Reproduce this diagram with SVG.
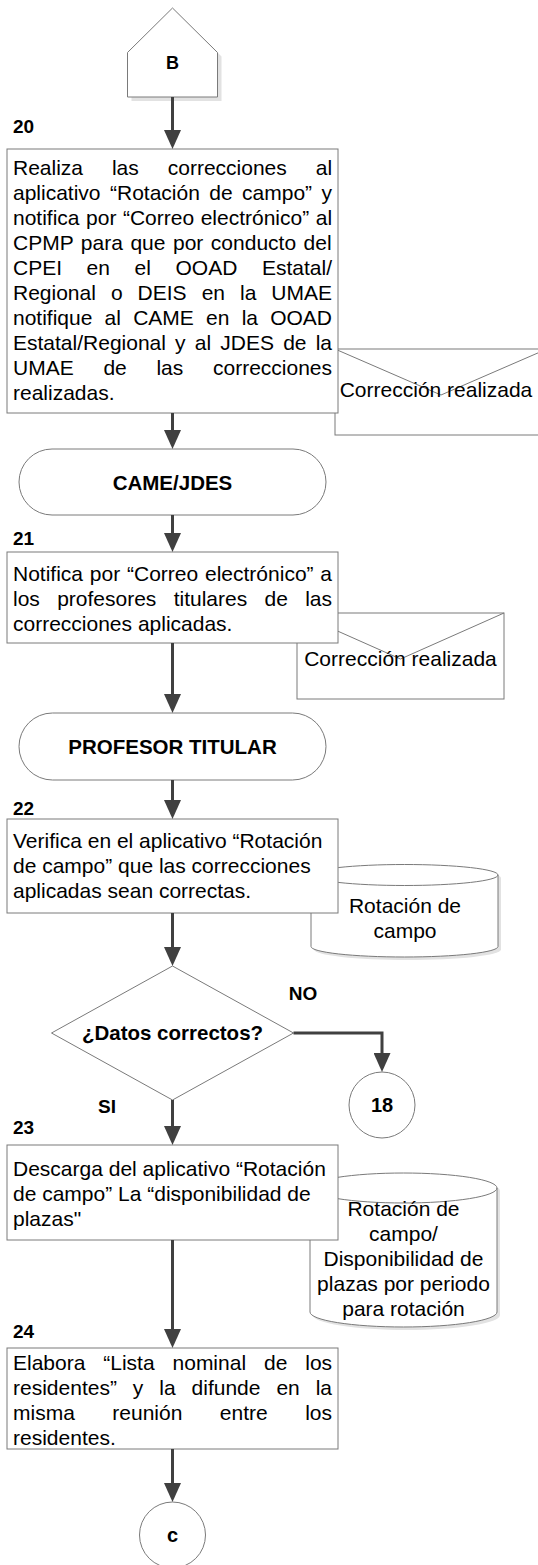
<svg xmlns="http://www.w3.org/2000/svg" width="538" height="1565" viewBox="0 0 538 1565">
<defs>
<marker id="ah" markerUnits="userSpaceOnUse" markerWidth="19" markerHeight="17" refX="9" refY="8.5" orient="auto"><path d="M0,0 L19,8.5 L0,17 Z" fill="#404040"/></marker>
</defs>
<style>
.shape{fill:#fff;stroke:#7a7a7a;stroke-width:1}
.shadow{fill:#e2e2e2;stroke:none}
.line{fill:none;stroke:#7a7a7a;stroke-width:1}
.txt{font-family:"Liberation Sans",Arial,sans-serif;font-size:21px;fill:#000}
.c{text-anchor:middle}
.b{font-family:"Liberation Sans",Arial,sans-serif;font-weight:bold;fill:#000}
.conn{fill:none;stroke:#404040;stroke-width:3;marker-end:url(#ah)}
</style>
<rect width="538" height="1565" fill="#fff"/>

<g id="nodeB">
<polygon class="shadow" points="131.5,56.5 176.5,12 221.5,56.5 221.5,101 131.5,101"/>
<polygon class="shape" points="127.5,52.5 172.5,8 217.5,52.5 217.5,97 127.5,97"/>
<text class="b c" x="172.5" y="69" font-size="18">B</text>
</g>

<g id="env1">
<rect class="shape" x="335" y="349" width="212" height="86"/>
<polyline class="line" points="335,349 441,395 547,349"/>
<text class="txt c" x="436" y="397">Corrección realizada</text>
</g>

<g id="step20">
<text class="b" x="13" y="133" font-size="19">20</text>
<rect class="shape" x="7" y="149" width="331" height="264"/>
<text class="txt">
<tspan x="13" y="174.5" word-spacing="23.09">Realiza las correcciones al</tspan>
<tspan x="13" y="199.5" word-spacing="3.6">aplicativo “Rotación de campo” y</tspan>
<tspan x="13" y="224.5" word-spacing="0.69">notifica por “Correo electrónico” al</tspan>
<tspan x="13" y="249.5" word-spacing="1.7">CPMP para que por conducto del</tspan>
<tspan x="13" y="274.5" word-spacing="18.77">CPEI en el OOAD Estatal/</tspan>
<tspan x="13" y="299.5" word-spacing="9.18">Regional o DEIS en la UMAE</tspan>
<tspan x="13" y="324.5" word-spacing="6.38">notifique al CAME en la OOAD</tspan>
<tspan x="13" y="349.5" word-spacing="3.34">Estatal/Regional y al JDES de la</tspan>
<tspan x="13" y="374.5" word-spacing="23.87">UMAE de las correcciones</tspan>
<tspan x="13" y="399.5">realizadas.</tspan>
</text>
</g>

<g id="actor1">
<rect class="shape" x="19" y="449" width="307" height="66" rx="33" ry="33"/>
<text class="b c" x="172.5" y="489.5" font-size="20.5">CAME/JDES</text>
</g>

<g id="env2">
<rect class="shape" x="297" y="613" width="207" height="86"/>
<polyline class="line" points="297,613 400.5,659 504,613"/>
<text class="txt c" x="400.5" y="666">Corrección realizada</text>
</g>

<g id="step21">
<text class="b" x="13" y="545" font-size="19">21</text>
<rect class="shape" x="7" y="552" width="331" height="91"/>
<text class="txt">
<tspan x="13" y="580.5" word-spacing="0.98">Notifica por “Correo electrónico” a</tspan>
<tspan x="13" y="605.5" word-spacing="11.47">los profesores titulares de las</tspan>
<tspan x="13" y="630.5">correcciones aplicadas.</tspan>
</text>
</g>

<g id="actor2">
<rect class="shape" x="19" y="713" width="307" height="67" rx="33.5" ry="33.5"/>
<text class="b c" x="172.5" y="754" font-size="20.5">PROFESOR TITULAR</text>
</g>

<g id="db1">
<path class="shadow" d="M314,878 A93.5,10.5 0 0 1 501,878 L501,949.5 A93.5,10.5 0 0 1 314,949.5 Z"/>
<path class="shape" d="M311,875 A93.5,10.5 0 0 1 498,875 L498,946.5 A93.5,10.5 0 0 1 311,946.5 Z"/>
<path class="line" d="M311,875 A93.5,10.5 0 0 0 498,875"/>
<text class="txt c" x="405" y="912.5">Rotación de</text>
<text class="txt c" x="405" y="937.5">campo</text>
</g>

<g id="step22">
<text class="b" x="13" y="815" font-size="19">22</text>
<rect class="shape" x="7" y="819" width="331" height="94"/>
<text class="txt">
<tspan x="13" y="847.5">Verifica en el aplicativo “Rotación</tspan>
<tspan x="13" y="872.5">de campo” que las correcciones</tspan>
<tspan x="13" y="897.5">aplicadas sean correctas.</tspan>
</text>
</g>

<g id="decision">
<polygon class="shape" points="172.5,966 293.5,1033 172.5,1100 51.5,1033"/>
<text class="b c" x="172.5" y="1040" font-size="20.5">¿Datos correctos?</text>
<text class="b c" x="303" y="1000" font-size="19">NO</text>
<text class="b c" x="107" y="1113" font-size="19">SI</text>
</g>

<g id="conn18">
<circle class="shape" cx="382" cy="1105" r="33"/>
<text class="b c" x="382" y="1112" font-size="20">18</text>
</g>

<g id="db2">
<path class="shadow" d="M313,1191 A93.5,15 0 0 1 500,1191 L500,1315 A93.5,15 0 0 1 313,1315 Z"/>
<path class="shape" d="M310,1188 A93.5,15 0 0 1 497,1188 L497,1312 A93.5,15 0 0 1 310,1312 Z"/>
<path class="line" d="M310,1188 A93.5,15 0 0 0 497,1188"/>
<text class="txt c" x="403.5" y="1215.5">Rotación de</text>
<text class="txt c" x="403.5" y="1240.5">campo/</text>
<text class="txt c" x="403.5" y="1265.5">Disponibilidad de</text>
<text class="txt c" x="403.5" y="1290.5">plazas por periodo</text>
<text class="txt c" x="403.5" y="1315.5">para rotación</text>
</g>

<g id="step23">
<text class="b" x="13" y="1134" font-size="19">23</text>
<rect class="shape" x="7" y="1145" width="331" height="95"/>
<text class="txt">
<tspan x="13" y="1176">Descarga del aplicativo “Rotación</tspan>
<tspan x="13" y="1201">de campo” La “disponibilidad de</tspan>
<tspan x="13" y="1226">plazas"</tspan>
</text>
</g>

<g id="step24">
<text class="b" x="13" y="1338" font-size="19">24</text>
<rect class="shape" x="7" y="1348" width="331" height="101"/>
<text class="txt">
<tspan x="13" y="1369.5" word-spacing="12.06">Elabora “Lista nominal de los</tspan>
<tspan x="13" y="1394.5" word-spacing="10.11">residentes” y la difunde en la</tspan>
<tspan x="13" y="1419.5" word-spacing="31.64">misma reunión entre los</tspan>
<tspan x="13" y="1444.5">residentes.</tspan>
</text>
</g>

<g id="connC">
<circle class="shape" cx="172.5" cy="1535" r="33"/>
<text class="b c" x="172.5" y="1542" font-size="20">c</text>
</g>

<g id="connectors">
<path class="conn" d="M172.5,97 V139"/>
<path class="conn" d="M172.5,413 V439"/>
<path class="conn" d="M172.5,515 V542"/>
<path class="conn" d="M172.5,643 V703"/>
<path class="conn" d="M172.5,780 V809"/>
<path class="conn" d="M172.5,913 V956"/>
<path class="conn" d="M293.5,1033 H382 V1062"/>
<path class="conn" d="M172.5,1100 V1135"/>
<path class="conn" d="M172.5,1240 V1338"/>
<path class="conn" d="M172.5,1449 V1492"/>
</g>
</svg>
